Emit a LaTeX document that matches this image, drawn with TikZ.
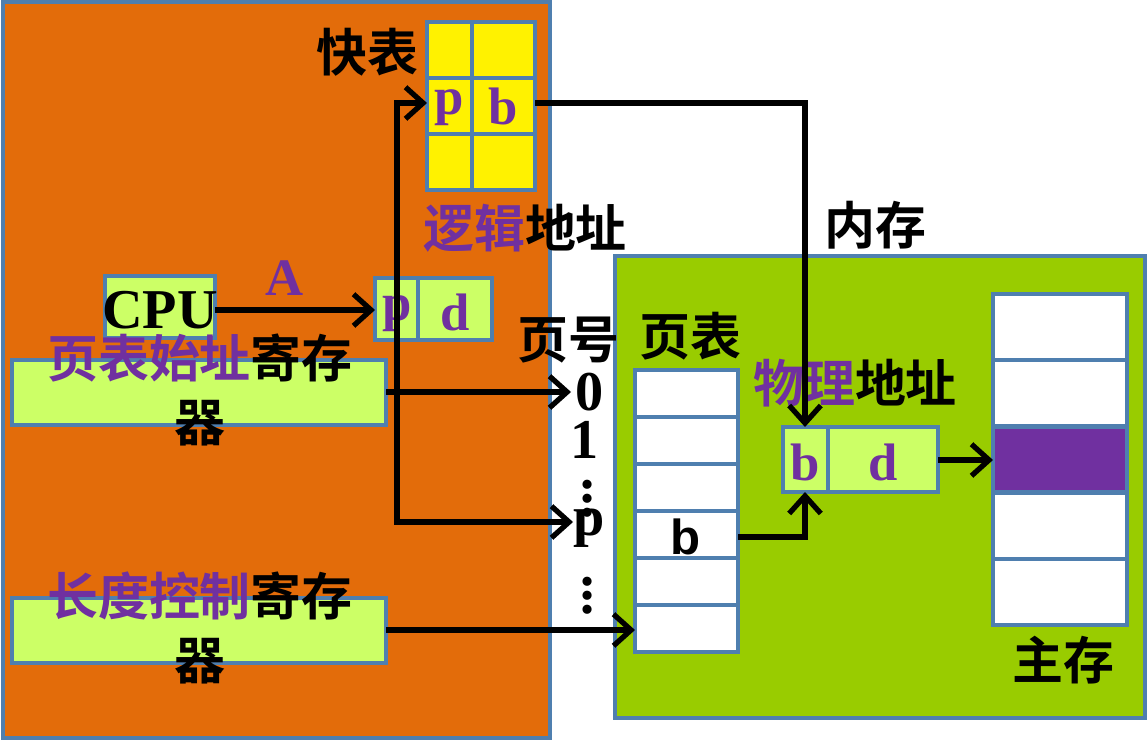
\documentclass[tikz,border=0pt]{standalone}
\usepackage{fontspec}
\setmainfont{Liberation Serif}
\setsansfont{Liberation Sans}
\newfontfamily\cjk{Noto Sans CJK SC}[BoldFont={Noto Sans CJK SC Bold}]
\usetikzlibrary{calc,arrows.meta}
\definecolor{orng}{HTML}{E36C0A}
\definecolor{lgrn}{HTML}{99CC00}
\definecolor{lime}{HTML}{CCFF66}
\definecolor{purp}{HTML}{7030A0}
\definecolor{edge}{HTML}{4F7FAF}
\tikzset{
  box/.style={draw=edge,line width=1.2pt},
  cell/.style={draw=edge,line width=1.2pt,fill=white},
  ltr/.style={font=\fontsize{15}{15}\selectfont\bfseries,text=purp},
  num/.style={font=\fontsize{16}{16}\selectfont\bfseries,inner sep=1pt},
  zh/.style={font=\cjk\fontsize{14.5}{16}\selectfont\bfseries},
  link/.style={line width=1.5pt,-{Straight Barb[length=5pt,width=9pt]}}
}
\begin{document}
\begin{tikzpicture}[x=0.1mm,y=-0.1mm]
  \useasboundingbox (0,0) rectangle (1147,741);
  % regions
  \draw[box,fill=orng] (3,2) rectangle (550,738);
  \draw[box,fill=lgrn] (615,256) rectangle (1145,718);
  % quick table
  \foreach \r in {0,1,2}{
    \draw[box,fill=yellow] (427,22+56*\r) rectangle (472,78+56*\r);
    \draw[box,fill=yellow] (472,22+56*\r) rectangle (535,78+56*\r);
  }
  \node[ltr] (tp) at (449,108) {p};
  \node[ltr] (tb) at (503,106) {b};
  \coordinate (tlbp) at (427,103);
  \coordinate (tlbb) at (535,103);
  \node[zh] (kb) at (367,52) {快表};
  \node[zh] (lj) at (525,228) {\textcolor{purp}{逻辑}地址};
  \node[zh] (nc) at (875,225) {内存};
  % cpu and logical address
  \draw[box,fill=lime] (105,276) rectangle (215,338);
  \node[font=\fontsize{16}{16}\selectfont\bfseries] (cpu) at (160,310) {CPU};
  \coordinate (cpur) at (215,310);
  \node[ltr] (A) at (285,278) {A};
  \draw[box,fill=lime] (375,278) rectangle (492,340);
  \draw[box] (418,278) -- (418,340);
  \node[ltr] (lp) at (397,314) {p};
  \node[ltr] (ld) at (455,312) {d};
  \coordinate (lin) at (375,310);
  \coordinate (lps) at (397,340);
  % registers
  \draw[box,fill=lime] (12,360) rectangle (386,425);
  \node[zh] (reg1) at (200,358) {\textcolor{purp}{页表始址}寄存};
  \node[zh] (reg1b) at (200,423) {器};
  \coordinate (reg1r) at (386,392);
  \draw[box,fill=lime] (12,598) rectangle (386,663);
  \node[zh] (reg2) at (200,596) {\textcolor{purp}{长度控制}寄存};
  \node[zh] (reg2b) at (200,661) {器};
  \coordinate (reg2r) at (386,630);
  % page numbers
  \node[zh] (yh) at (568,340) {页号};
  \node[zh] (yb) at (690,336) {页表};
  \node[num,anchor=west] (n0) at (571,392) {0};
  \node[num] (n1) at (585,440) {1};
  \node[num] (d1) at (588,488) {$\vdots$};
  \node[num] (np) at (589,528) {p};
  \node[num] (d2) at (588,585) {$\vdots$};
  \coordinate (npw) at (573,522);
  % page table
  \foreach \r in {0,...,5}
    \draw[cell] (635,370+47*\r) rectangle (738,417+47*\r);
  \node[font=\sffamily\fontsize{14}{14}\selectfont\bfseries] (pb) at (686,537) {b};
  \coordinate (pbr) at (738,537);
  \coordinate (ptl) at (635,630);
  % physical address
  \node[zh] (wl) at (855,383) {\textcolor{purp}{物理}地址};
  \draw[box,fill=lime] (783,427) rectangle (938,492);
  \draw[box] (828,427) -- (828,492);
  \node[ltr] (pb2) at (805,462) {b};
  \node[ltr] (pd) at (883,462) {d};
  \coordinate (pat) at (805,427);
  \coordinate (pab) at (805,492);
  \coordinate (par) at (938,460);
  % main memory
  \foreach \r in {0,...,4}
    \draw[cell] (993,294+66.2*\r) rectangle (1127,360.2+66.2*\r);
  \draw[cell,fill=purp] (993,426.4) rectangle (1127,492.6);
  \coordinate (mem) at (993,460);
  \node[zh] (zc) at (1063,660) {主存};
  % connectors
  \draw[link] (cpur) -- (lin);
  \draw[link] (lps) -- (397,103) -- (tlbp);
  \draw[link] (lps) -- (397,522) -- (npw);
  \draw[link] (reg1r) -- (n0.west);
  \draw[link] (tlbb) -- (805,103) -- (pat);
  \draw[link] (pbr) -- (805,537) -- (pab);
  \draw[link] (par) -- (mem);
  \draw[link] (reg2r) -- (ptl);
\end{tikzpicture}
\end{document}
